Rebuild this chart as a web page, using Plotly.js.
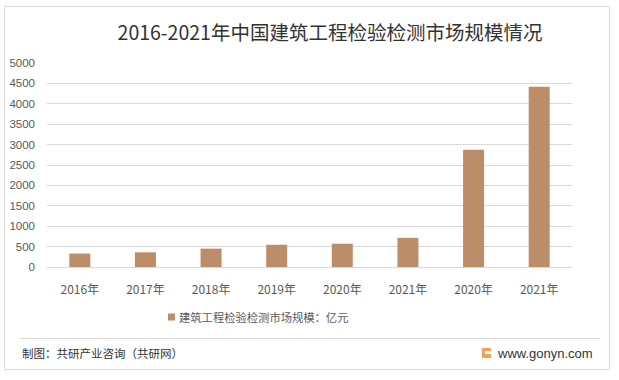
<!DOCTYPE html>
<html>
<head>
<meta charset="utf-8">
<script src="https://cdn.plot.ly/plotly-3.0.1.min.js"></script>
<style>html,body{margin:0;padding:0;background:#fff;}#chart{width:619px;height:380px;}</style>
</head>
<body>
<div id="chart"></div>
<script>
const categories = ['2016年','2017年','2018年','2019年','2020年','2021年','2020年','2021年'];
const marketSize = [330, 360, 450, 545, 570, 715, 2875, 4420];
const seriesName = '建筑工程检验检测市场规模：亿元';
const titleText = '2016-2021年中国建筑工程检验检测市场规模情况';
const sourceText = '制图：共研产业咨询（共研网）';
const siteText = 'www.gonyn.com';

const W = 619, H = 380;
const L = 47, R = 572, T = 63, B = 267;
const px = x => (x - L) / (R - L);
const py = y => (B - y) / (B - T);

const positions = categories.map((_, i) => i);
const font = "'Noto Sans CJK SC', 'Microsoft YaHei', sans-serif";
const barColor = '#BB8D69';

const trace = {
  type: 'bar',
  x: positions,
  y: marketSize,
  name: seriesName,
  marker: {color: barColor},
  width: 0.32,
  showlegend: false,
  hoverinfo: 'x+y'
};

const layout = {
  width: W, height: H,
  margin: {l: L, r: W - R, t: T, b: H - B},
  paper_bgcolor: '#fff', plot_bgcolor: '#fff',
  font: {family: font, color: '#595959', size: 12},
  title: {
    text: titleText,
    font: {family: font, size: 19.5, color: '#333333'},
    x: px(330), xref: 'paper', xanchor: 'center',
    y: 1 - 33 / H, yref: 'container', yanchor: 'middle'
  },
  xaxis: {
    tickmode: 'array', tickvals: positions, ticktext: categories,
    range: [-0.5, categories.length - 0.5],
    showgrid: false, zeroline: false, showline: false,
    ticks: '', ticklen: 0, ticklabelstandoff: 14,
    tickfont: {family: font, size: 12, color: '#595959'},
    fixedrange: true
  },
  yaxis: {
    range: [0, 5000], dtick: 500, tick0: 0,
    showgrid: true, gridcolor: '#d9d9d9', gridwidth: 1,
    zeroline: true, zerolinecolor: '#d9d9d9', zerolinewidth: 1,
    showline: false, ticks: '', ticklabelstandoff: 11,
    tickfont: {family: "'Liberation Sans', Arial, sans-serif", size: 11.5, color: '#595959'},
    fixedrange: true
  },
  showlegend: false,
  shapes: [
    {type: 'rect', xref: 'paper', yref: 'paper', x0: px(4.5), x1: px(609.5), y0: py(6.5), y1: py(369.5),
     line: {color: '#d9d9d9', width: 1}, fillcolor: 'rgba(0,0,0,0)', layer: 'below'},
    {type: 'line', xref: 'paper', yref: 'paper', x0: px(20), x1: px(600), y0: py(338.5), y1: py(338.5),
     line: {color: '#d9d9d9', width: 1}},
    {type: 'rect', xref: 'paper', yref: 'paper', x0: px(168), x1: px(175), y0: py(313.5), y1: py(320.5),
     line: {width: 0}, fillcolor: barColor},
    {type: 'rect', xref: 'paper', yref: 'paper', x0: px(482), x1: px(491), y0: py(348), y1: py(358),
     line: {width: 0}, fillcolor: '#F4A259'},
    {type: 'rect', xref: 'paper', yref: 'paper', x0: px(485), x1: px(491), y0: py(351), y1: py(354),
     line: {width: 0}, fillcolor: '#ffffff'}
  ],
  annotations: [
    {text: seriesName, xref: 'paper', yref: 'paper', x: px(177), y: py(317), xanchor: 'left', yanchor: 'middle',
     showarrow: false, font: {family: font, size: 11.3, color: '#595959'}},
    {text: sourceText, xref: 'paper', yref: 'paper', x: px(20), y: py(353), xanchor: 'left', yanchor: 'middle',
     showarrow: false, font: {family: font, size: 11.5, color: '#333333'}},
    {text: siteText, xref: 'paper', yref: 'paper', x: px(595), y: py(353), xanchor: 'right', yanchor: 'middle',
     showarrow: false, font: {family: "'Liberation Sans', Arial, sans-serif", size: 13, color: '#333333'}}
  ]
};

Plotly.newPlot('chart', [trace], layout, {displayModeBar: false, staticPlot: true});
</script>
</body>
</html>
